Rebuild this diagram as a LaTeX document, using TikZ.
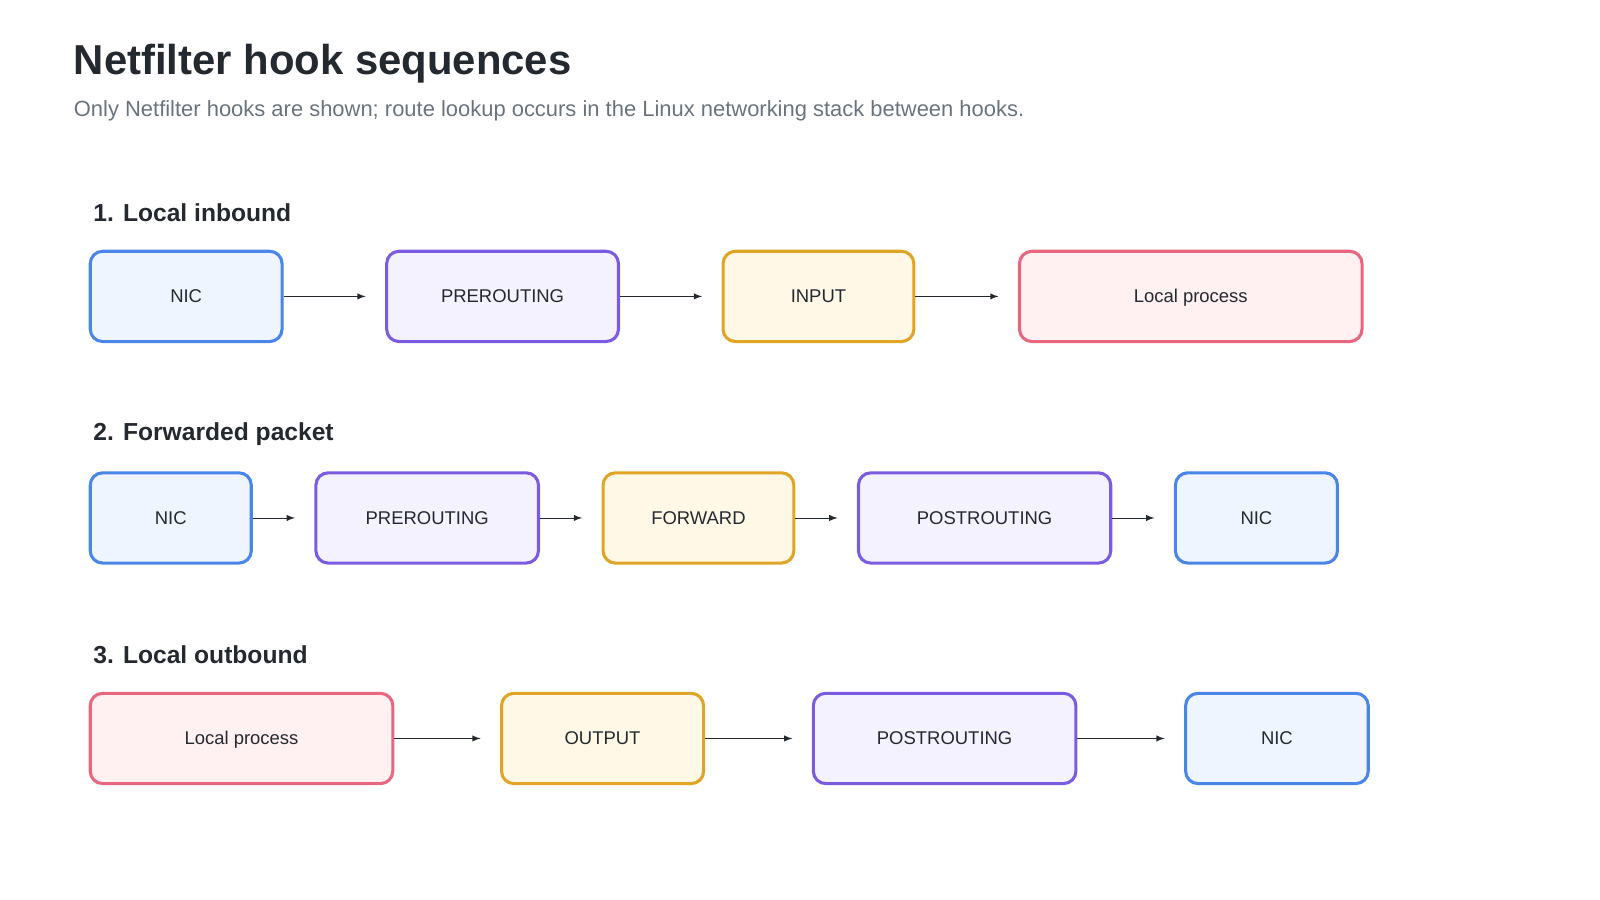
\documentclass[tikz,border=0pt]{standalone}
\usepackage{fontspec}
\setmainfont{Liberation Sans}
\usetikzlibrary{arrows,calc,positioning}
\definecolor{bluedraw}{HTML}{4A86E8}\definecolor{bluefill}{HTML}{EFF5FF}
\definecolor{purpdraw}{HTML}{7B5CE0}\definecolor{purpfill}{HTML}{F5F2FF}
\definecolor{orgdraw}{HTML}{E0A526}\definecolor{orgfill}{HTML}{FFF8E6}
\definecolor{pinkdraw}{HTML}{E8677F}\definecolor{pinkfill}{HTML}{FFF0F2}
\definecolor{inktext}{HTML}{24292F}\definecolor{subtext}{HTML}{6A737D}
\tikzset{%
	hookbox/.style = {rectangle, rounded corners=6pt, line width=1.5pt, minimum height=44pt, text height=1.7ex, text depth=0.5ex, text centered, font=\fontsize{9}{11}\selectfont, text=inktext},
	nicbox/.style  = {hookbox, draw=bluedraw, fill=bluefill},
	hookp/.style   = {hookbox, draw=purpdraw, fill=purpfill},
	hooko/.style   = {hookbox, draw=orgdraw, fill=orgfill},
	procbox/.style = {hookbox, draw=pinkdraw, fill=pinkfill},
	heading/.style = {anchor=west, font=\bfseries\fontsize{12}{14}\selectfont, text=inktext},
	arrow/.style   = {thin, -latex, draw=inktext, shorten >=9.5pt},
}
\begin{document}
\begin{tikzpicture}[x=0.5pt,y=-0.5pt]
	\useasboundingbox (0,0) rectangle (1560,877.5);
	\node[anchor=west, font=\bfseries\fontsize{20.4}{24}\selectfont, text=inktext] (title) at (65,62) {Netfilter hook sequences};
	\node[anchor=west, font=\fontsize{10.7}{13}\selectfont, text=subtext] (sub) at (65,108) {Only Netfilter hooks are shown; route lookup occurs in the Linux networking stack between hooks.};
	
	% 1. Local inbound
	\node[heading] (h1) at (84,207) {1. Local inbound};
	\node[nicbox, minimum width=93.5pt] (a1) at (181.5,289) {NIC};
	\node[hookp, minimum width=113pt] (a2) at (490,289) {PREROUTING};
	\node[hooko, minimum width=93pt] (a3) at (798,289) {INPUT};
	\node[procbox, minimum width=167pt] (a4) at (1161,289) {Local process};
	\foreach \s/\t in {a1/a2,a2/a3,a3/a4} \draw[arrow] (\s) -- (\t);
	
	% 2. Forwarded packet
	\node[heading] (h2) at (84,423) {2. Forwarded packet};
	\node[nicbox, minimum width=78.5pt] (b1) at (166.5,505) {NIC};
	\node[hookp, minimum width=108.5pt] (b2) at (416.5,505) {PREROUTING};
	\node[hooko, minimum width=93pt] (b3) at (681,505) {FORWARD};
	\node[hookp, minimum width=123pt] (b4) at (960,505) {POSTROUTING};
	\node[nicbox, minimum width=79pt] (b5) at (1225,505) {NIC};
	\foreach \s/\t in {b1/b2,b2/b3,b3/b4,b4/b5} \draw[arrow] (\s) -- (\t);
	
	% 3. Local outbound
	\node[heading] (h3) at (84,638) {3. Local outbound};
	\node[procbox, minimum width=147.5pt] (c1) at (235.5,720) {Local process};
	\node[hooko, minimum width=98.5pt] (c2) at (587.5,720) {OUTPUT};
	\node[hookp, minimum width=128pt] (c3) at (921,720) {POSTROUTING};
	\node[nicbox, minimum width=89pt] (c4) at (1245,720) {NIC};
	\foreach \s/\t in {c1/c2,c2/c3,c3/c4} \draw[arrow] (\s) -- (\t);
\end{tikzpicture}
\end{document}
